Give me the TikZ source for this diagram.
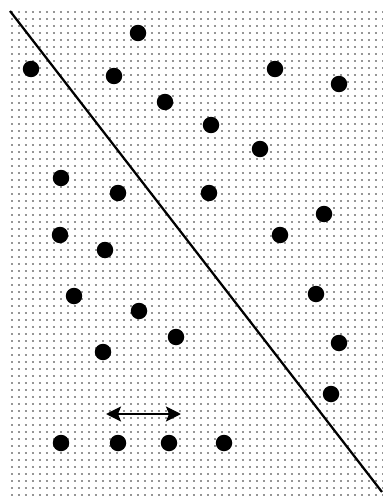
\documentclass[tikz,border=0pt]{standalone}
\usepackage{tikz}
\usetikzlibrary{arrows.meta,positioning}
\definecolor{dotgray}{RGB}{150,150,150}
\tikzset{
  pt/.style={circle,fill=black,draw=none,inner sep=0pt,minimum size=0.33cm},
  grain/.style={dotgray,line width=0.034cm,dash pattern=on 0.034cm off 0.106cm},
  split/.style={black,line width=0.045cm},
  span/.style={Stealth-Stealth,line width=0.045cm,
               arrows={[length=0.3cm,width=0.3cm,inset=0.06cm]}},
}

\begin{document}
\begin{tikzpicture}[x=0.02cm,y=-0.02cm]
  \useasboundingbox (0,0) rectangle (382,500);
  % dotted background
  \foreach \r in {12,19,...,498}
    \draw[grain] (11,\r) -- (382,\r);
  % separating line
  \coordinate (lineA) at (10,11);
  \coordinate (lineB) at (382,492);
  \draw[split] (lineA) -- (lineB);
  % points
  \foreach \n/\px/\py in {1/138/33,2/31/69,3/114/76,4/275/69,5/339/84,
      6/165/102,7/211/125,8/260/149,9/61/178,10/118/193,11/209/193,
      12/324/214,13/60/235,14/105/250,15/280/235,16/74/296,17/139/311,
      18/316/294,19/176/337,20/339/343,21/103/352,22/331/394,
      23/61/443,24/118/443,25/169/443,26/224/443}
    \node[pt] (p\n) at (\px,\py) {};
  % spacing marker
  \coordinate (spanL) at (106,414);
  \coordinate (spanR) at (181,414);
  \draw[span] (spanL) -- (spanR);
\end{tikzpicture}
\end{document}
